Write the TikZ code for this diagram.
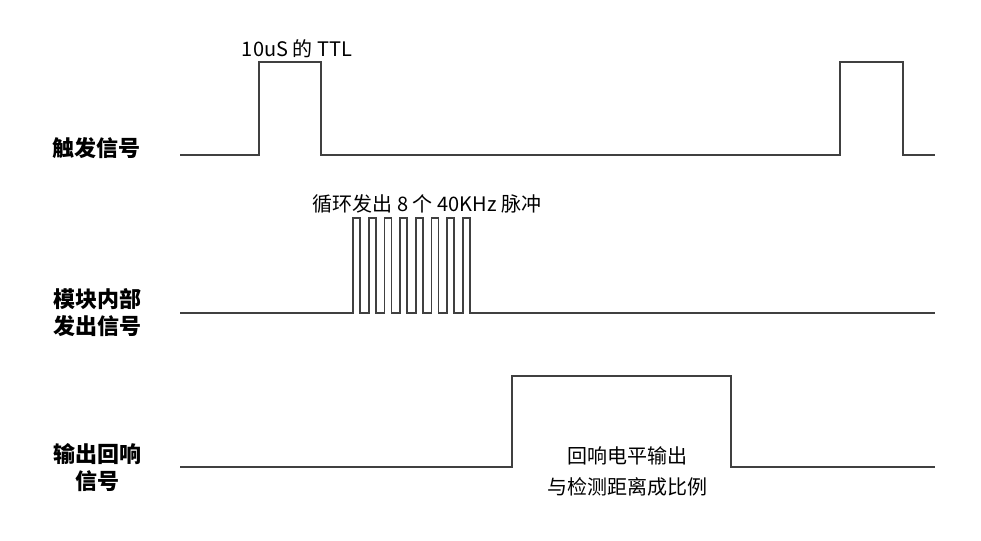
\documentclass[tikz,border=0pt]{standalone}
\usepackage{fontspec}
\newfontfamily\cjk{Noto Sans CJK SC}
\begin{document}
\begin{tikzpicture}[x=1pt,y=-1pt,
  wave/.style={line width=1.6pt,draw=black!75},
  sig/.style={font=\cjk\bfseries\fontsize{22}{27}\selectfont,align=center,inner sep=0pt},
  note/.style={font=\cjk\fontsize{20}{31}\selectfont,align=center,inner sep=0pt}]
\useasboundingbox (0,0) rectangle (981,540);

% trigger signal
\draw[wave] (180,155) -- (259,155) -- (259,62) -- (321,62) -- (321,155) -- (840,155) -- (840,62) -- (903,62) -- (903,155) -- (935,155);

% 8 pulses of the burst
\draw[wave] (180,313) -- (353,313)
  \foreach \i in {1,...,8}{ -- ++(0,-95) -- ++(7,0) -- ++(0,95) -- ++(8.7,0)}
  -- (935,313);

% echo output
\draw[wave] (180,467) -- (512,467) -- (512,376) -- (731,376) -- (731,467) -- (935,467);

\node[sig] (trig) at (96,148) {触发信号};
\node[sig] (burst) at (97,313) {模块内部\\发出信号};
\node[sig] (echo) at (97,468) {输出回响\\信号};

\node[note] (ttl) at (297,49) {10uS 的 TTL};
\node[note] (cycle) at (427,204) {循环发出 8 个 40KHz 脉冲};
\node[note] (level) at (627,471) {回响电平输出\\与检测距离成比例};
\end{tikzpicture}
\end{document}
